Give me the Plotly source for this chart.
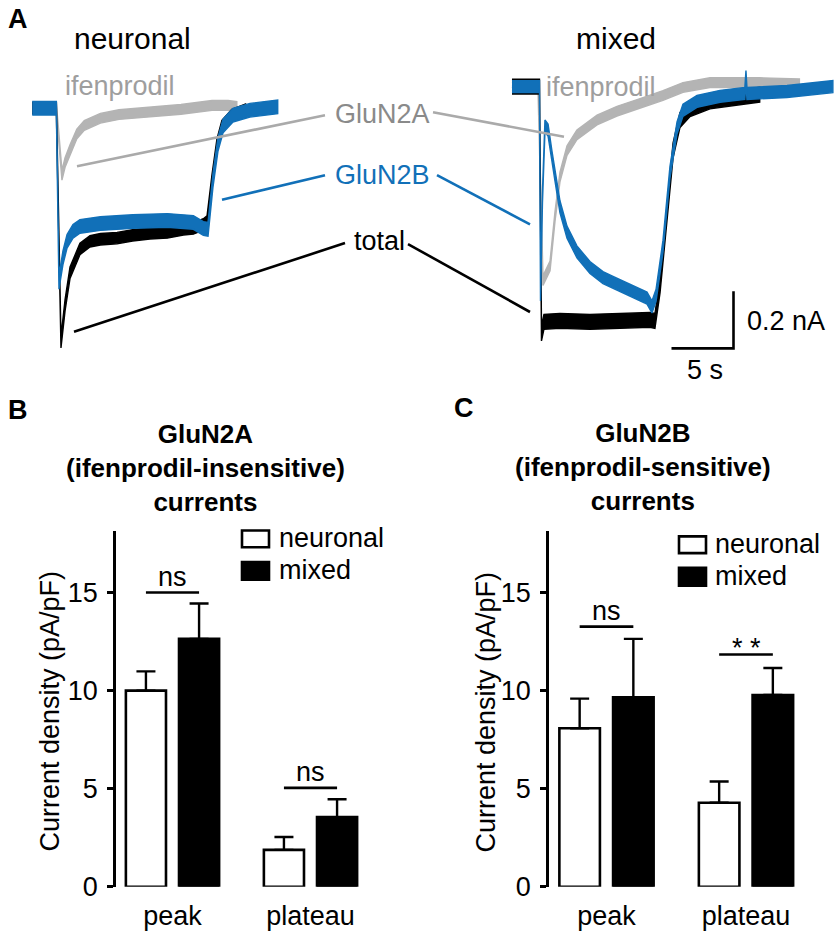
import plotly.graph_objects as go

W, H = 839, 950
FONT = "Liberation Sans, Arial, Helvetica, sans-serif"
BLUE = "#1170b8"
GRAY_TRACE = "#b4b4b4"
GRAY_TEXT = "#8a8a8a"


def px(x):
    return x / W


def py(y):
    return 1 - y / H


# ---------------- Panel A : current traces (time in s, current in nA, 0 = baseline) ----------------
NEU_GRAY_T = [-2.0, -0.05, 0.40, 0.65, 1.05, 1.60, 2.20, 3.50, 5.00, 7.50, 10.0, 12.5, 13.8, 14.5]
NEU_GRAY_I = [0.0, 0.0, -0.235, -0.19, -0.145, -0.09, -0.06, -0.035, -0.022, -0.014, -0.004, 0.01, 0.01, 0.006]

NEU_BLACK_T = [-2.0, -0.05, 0.32, 0.65, 1.05, 1.85, 2.66, 3.5, 4.84, 6.1, 7.5, 8.9, 10.2, 11.0, 11.8,
               12.1, 12.5, 12.9, 13.3, 14.1, 15.2]
NEU_BLACK_I = [0.0, 0.0, -0.82, -0.69, -0.576, -0.493, -0.466, -0.459, -0.455, -0.445, -0.438, -0.435,
               -0.424, -0.421, -0.407, -0.397, -0.252, -0.127, -0.062, -0.024, -0.005]

NEU_BLUE_T = [-2.0, -0.05, 0.16, 0.48, 0.81, 1.29, 1.85, 3.5, 6.1, 8.9, 11.0, 11.8, 12.18, 12.58, 12.98,
              13.39, 14.19, 15.56, 17.8]
NEU_BLUE_I = [0.0, 0.0, -0.61, -0.524, -0.466, -0.431, -0.414, -0.404, -0.397, -0.393, -0.4, -0.421,
              -0.424, -0.252, -0.127, -0.062, -0.024, -0.007, 0.005]

MIX_GRAY_T = [-2.18, -0.08, 0.32, 0.89, 1.29, 1.69, 2.26, 3.06, 4.68, 6.29, 8.15, 10.0, 11.61, 13.79, 17.8, 21.0]
MIX_GRAY_I = [0.0, 0.0, -0.68, -0.628, -0.455, -0.317, -0.224, -0.169, -0.117, -0.086, -0.059, -0.031,
              -0.003, 0.014, 0.014, 0.01]

MIX_BLACK_T = [-2.18, 0.04, 0.20, 0.40, 1.69, 4.11, 6.53, 8.95, 9.35, 9.76, 10.32, 10.81, 11.37, 12.18, 13.79, 17.8]
MIX_BLACK_I = [0.0, 0.0, -0.865, -0.824, -0.821, -0.824, -0.821, -0.817, -0.821, -0.697, -0.455, -0.224,
               -0.117, -0.079, -0.052, -0.028]

MIX_BLUE_T = [-2.18, 0.04, 0.12, 0.28, 0.48, 0.73, 1.05, 1.29, 1.69, 2.26, 3.06, 4.11, 5.16, 5.97, 7.34,
              8.71, 9.11, 9.44, 10.0, 10.56, 11.13, 11.61, 12.74, 14.6, 16.6, 16.69, 16.77, 20.0, 23.7]
MIX_BLUE_I = [0.0, 0.0, -0.73, -0.386, -0.138, -0.152, -0.248, -0.31, -0.421, -0.51, -0.579, -0.634,
              -0.669, -0.686, -0.714, -0.741, -0.772, -0.731, -0.559, -0.301, -0.145, -0.083, -0.052,
              -0.034, -0.024, 0.035, -0.024, -0.017, 0.0]

# noise half-width of each recording (nA)
NOISE_NEU = {"gray": 0.017, "black": 0.020, "blue": 0.024}
NOISE_MIX = {"gray": 0.017, "black": 0.026, "blue": 0.021}

SCALE_T = 5      # s
SCALE_I = 0.2    # nA

# ---------------- Panels B / C : current densities (pA/pF) ----------------
CATEGORIES = ["peak", "plateau"]
GLUN2A_NEURONAL = [10.0, 1.88]
GLUN2A_NEURONAL_SEM = [0.98, 0.66]
GLUN2A_MIXED = [12.64, 3.55]
GLUN2A_MIXED_SEM = [1.80, 0.91]
GLUN2A_SIG = ["ns", "ns"]
GLUN2A_SIG_Y = [15.0, 5.04]

GLUN2B_NEURONAL = [8.08, 4.28]
GLUN2B_NEURONAL_SEM = [1.51, 1.09]
GLUN2B_MIXED = [9.66, 9.78]
GLUN2B_MIXED_SEM = [2.98, 1.37]
GLUN2B_SIG = ["ns", "**"]
GLUN2B_SIG_Y = [13.26, 11.84]

Y_TICKS = [0, 5, 10, 15]

# ---------------- layout geometry (pixels) ----------------
PX_PER_S = 12.4
PX_PER_NA = 290.0
A_TOP, A_BOT = 55, 390
NEU_DOM = (20, 300)
NEU_T0_PX, NEU_BASE_PX = 57, 110
MIX_DOM = (500, 839)
MIX_T0_PX, MIX_BASE_PX = 539, 88

BAR_TOP, BAR_BOT = 540, 901
PX_PER_UNIT = 19.93
Y_MAX = (BAR_BOT - BAR_TOP) / PX_PER_UNIT
BAR_GAP, BAR_GROUP_GAP = 0.23, 0.245
B_AXIS_PX, B_STEP = 116, 138.0
C_AXIS_PX, C_STEP = 549, 139.5
B_LEFT = (172.5 - B_AXIS_PX) / B_STEP
C_LEFT = (606.5 - C_AXIS_PX) / C_STEP


def trange(dom, t0px):
    return [(dom[0] - t0px) / PX_PER_S, (dom[1] - t0px) / PX_PER_S]


def irange(basepx):
    return [-(A_BOT - basepx) / PX_PER_NA, -(A_TOP - basepx) / PX_PER_NA]


fig = go.Figure()


def band(t, i, hw, color, xa, ya):
    xs = list(t) + list(t)[::-1]
    ys = [v + hw for v in i] + [v - hw for v in i][::-1]
    fig.add_trace(go.Scatter(x=xs, y=ys, mode="lines", fill="toself", fillcolor=color,
                             line=dict(color=color, width=1.4), xaxis=xa, yaxis=ya,
                             hoverinfo="skip", showlegend=False))


band(NEU_GRAY_T, NEU_GRAY_I, NOISE_NEU["gray"], GRAY_TRACE, "x", "y")
band(NEU_BLACK_T, NEU_BLACK_I, NOISE_NEU["black"], "#000000", "x", "y")
band(NEU_BLUE_T, NEU_BLUE_I, NOISE_NEU["blue"], BLUE, "x", "y")
band(MIX_GRAY_T, MIX_GRAY_I, NOISE_MIX["gray"], GRAY_TRACE, "x2", "y2")
band(MIX_BLACK_T, MIX_BLACK_I, NOISE_MIX["black"], "#000000", "x2", "y2")
band(MIX_BLUE_T, MIX_BLUE_I, NOISE_MIX["blue"], BLUE, "x2", "y2")

# scale bar (in the mixed-trace axes)
sb_t = (733.5 - MIX_T0_PX) / PX_PER_S
sb_i = -(354 - MIX_BASE_PX) / PX_PER_NA
fig.add_trace(go.Scatter(x=[sb_t - SCALE_T, sb_t, sb_t], y=[sb_i, sb_i, sb_i + SCALE_I],
                         mode="lines", line=dict(color="black", width=2.6), xaxis="x2", yaxis="y2",
                         hoverinfo="skip", showlegend=False))

# bars
bar_sets = [
    ("x3", "y3", GLUN2A_NEURONAL, GLUN2A_NEURONAL_SEM, GLUN2A_MIXED, GLUN2A_MIXED_SEM),
    ("x4", "y4", GLUN2B_NEURONAL, GLUN2B_NEURONAL_SEM, GLUN2B_MIXED, GLUN2B_MIXED_SEM),
]
for xa, ya, nv, ns, mv, ms in bar_sets:
    for vals, sem, fill, name in [(nv, ns, "white", "neuronal"), (mv, ms, "black", "mixed")]:
        fig.add_trace(go.Bar(
            x=CATEGORIES, y=vals, name=name, xaxis=xa, yaxis=ya, showlegend=False,
            marker=dict(color=fill, line=dict(color="black", width=2.6)),
            error_y=dict(type="data", symmetric=False, array=sem, arrayminus=[0] * len(sem),
                         color="black", thickness=2.4, width=9.5),
            hoverinfo="skip"))

half = (1 - BAR_GAP) / 4  # offset of each bar centre from the category centre
shapes = []
annotations = []

# significance brackets
for xa, ya, sig, sig_y in [("x3", "y3", GLUN2A_SIG, GLUN2A_SIG_Y), ("x4", "y4", GLUN2B_SIG, GLUN2B_SIG_Y)]:
    for k, (lab, yv) in enumerate(zip(sig, sig_y)):
        shapes.append(dict(type="line", xref=xa, yref=ya, x0=k - half, x1=k + half, y0=yv, y1=yv,
                           line=dict(color="black", width=2.6)))
        star = lab.startswith("*")
        annotations.append(dict(xref=xa, yref=ya, x=k, y=yv, text="* *" if star else lab,
                                showarrow=False, yanchor="bottom", yshift=-10 if star else -1,
                                font=dict(size=27, family=FONT, color="black")))

# leader lines of panel A
LEADERS = [
    ((77, 169), (325, 117), "#aaaaaa"),
    ((433, 114), (564, 139), "#aaaaaa"),
    ((222, 203), (325, 178), BLUE),
    ((437, 178), (530, 228), BLUE),
    ((74, 337), (345, 247), "black"),
    ((408, 248), (530, 317), "black"),
]
for (x0, y0), (x1, y1), c in LEADERS:
    shapes.append(dict(type="line", xref="paper", yref="paper", x0=px(x0), y0=py(y0), x1=px(x1), y1=py(y1),
                       line=dict(color=c, width=2.6)))

# manual legends
for (bx, by1, by2, tx) in [(242, 539, 571, 277), (679, 545, 577, 713)]:
    shapes.append(dict(type="rect", xref="paper", yref="paper", x0=px(bx), x1=px(bx + 27),
                       y0=py(by1), y1=py(by1 + 17), fillcolor="white", line=dict(color="black", width=2.6)))
    shapes.append(dict(type="rect", xref="paper", yref="paper", x0=px(bx), x1=px(bx + 27),
                       y0=py(by2), y1=py(by2 + 18), fillcolor="black", line=dict(color="black", width=2.6)))
    annotations.append(dict(xref="paper", yref="paper", x=px(tx), y=py(by1 + 8), text="neuronal",
                            xanchor="left", yanchor="middle", showarrow=False,
                            font=dict(size=27, family=FONT, color="black")))
    annotations.append(dict(xref="paper", yref="paper", x=px(tx), y=py(by2 + 8), text="mixed",
                            xanchor="left", yanchor="middle", showarrow=False,
                            font=dict(size=27, family=FONT, color="black")))


def note(text, x, y, size=27, color="black", xanchor="center", angle=0):
    annotations.append(dict(xref="paper", yref="paper", x=px(x), y=py(y), text=text, showarrow=False,
                            xanchor=xanchor, yanchor="middle", textangle=angle,
                            font=dict(size=size, family=FONT, color=color)))


note("<b>A</b>", 18, 19, size=27)
note("<b>B</b>", 18, 417, size=27)
note("<b>C</b>", 464, 415, size=27)
note("neuronal", 132, 39, size=30)
note("mixed", 616, 39, size=30)
note("ifenprodil", 120, 87, color="#9e9e9e")
note("ifenprodil", 601, 88, color="#9e9e9e")
note("GluN2A", 382, 116, color=GRAY_TEXT)
note("GluN2B", 382, 178, color=BLUE)
note("total", 379, 245)
note("0.2 nA", 745, 326, xanchor="left")
note("5 s", 705, 376)
note("<b>GluN2A<br>(ifenprodil-insensitive)<br>currents</b>", 205, 476, size=26)
note("<b>GluN2B<br>(ifenprodil-sensitive)<br>currents</b>", 643, 474, size=26)
note("Current density (pA/pF)", 50, 723, size=27, angle=-90)
note("Current density (pA/pF)", 486, 724, size=27, angle=-90)

hidden = dict(visible=False, showgrid=False, zeroline=False, fixedrange=True)
bar_y_dom = [py(BAR_BOT), py(BAR_TOP)]
yax = dict(range=[0, Y_MAX], domain=bar_y_dom, showline=True, linecolor="black", linewidth=2.6,
           ticks="outside", ticklen=6, tickwidth=2.6, tickcolor="black", tickvals=Y_TICKS,
           tickfont=dict(size=27, family=FONT, color="black"), showgrid=False, zeroline=False,
           ticklabelstandoff=4)
xax = dict(type="category", showline=False, ticks="", showgrid=False, zeroline=False,
           tickfont=dict(size=27, family=FONT, color="black"), ticklabelstandoff=10)

fig.update_layout(
    width=W, height=H, margin=dict(l=0, r=0, t=0, b=0),
    paper_bgcolor="white", plot_bgcolor="white", showlegend=False,
    font=dict(family=FONT, color="black"),
    barmode="group", bargap=BAR_GAP, bargroupgap=BAR_GROUP_GAP,
    xaxis=dict(domain=[px(NEU_DOM[0]), px(NEU_DOM[1])], range=trange(NEU_DOM, NEU_T0_PX), anchor="y", **hidden),
    yaxis=dict(domain=[py(A_BOT), py(A_TOP)], range=irange(NEU_BASE_PX), anchor="x", **hidden),
    xaxis2=dict(domain=[px(MIX_DOM[0]), px(MIX_DOM[1])], range=trange(MIX_DOM, MIX_T0_PX), anchor="y2", **hidden),
    yaxis2=dict(domain=[py(A_BOT), py(A_TOP)], range=irange(MIX_BASE_PX), anchor="x2", **hidden),
    xaxis3=dict(domain=[px(B_AXIS_PX), px(B_AXIS_PX + (B_LEFT + 1.5) * B_STEP)], range=[-B_LEFT, 1.5],
                anchor="y3", **xax),
    yaxis3=dict(anchor="x3", **yax),
    xaxis4=dict(domain=[px(C_AXIS_PX), px(C_AXIS_PX + (C_LEFT + 1.5) * C_STEP)], range=[-C_LEFT, 1.5],
                anchor="y4", **xax),
    yaxis4=dict(anchor="x4", **yax),
    shapes=shapes,
    annotations=annotations,
)

fig.write_html("out.html", config={"displayModeBar": False},
               post_script="document.body.style.margin='0px';document.body.style.overflow='hidden';")
